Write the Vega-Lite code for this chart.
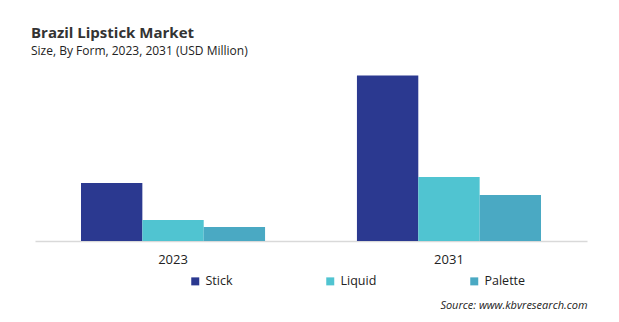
{
  "$schema": "https://vega.github.io/schema/vega-lite/v6.json",
  "autosize": {"type": "none"},
  "width": 552,
  "height": 181,
  "padding": {"left": 35, "top": 60, "right": 32, "bottom": 81},
  "background": "white",
  "title": {
    "text": "Brazil Lipstick Market",
    "subtitle": "Size, By Form, 2023, 2031 (USD Million)",
    "anchor": "start",
    "frame": "group",
    "dx": -4,
    "offset": 3,
    "font": "Open Sans",
    "fontSize": 15,
    "fontWeight": "bold",
    "color": "#333333",
    "subtitleFont": "Open Sans",
    "subtitleFontSize": 12,
    "subtitleColor": "#222222",
    "subtitlePadding": 5
  },
  "data": {
    "values": [
      {"year": "2023", "form": "Stick", "value": 58},
      {"year": "2023", "form": "Liquid", "value": 21},
      {"year": "2023", "form": "Palette", "value": 14},
      {"year": "2031", "form": "Stick", "value": 165.5},
      {"year": "2031", "form": "Liquid", "value": 64},
      {"year": "2031", "form": "Palette", "value": 46}
    ]
  },
  "mark": {"type": "bar"},
  "encoding": {
    "x": {
      "field": "year",
      "type": "nominal",
      "scale": {"paddingInner": 0.333, "paddingOuter": 0.1667},
      "axis": {
        "title": "Source: www.kbvresearch.com",
        "titleFont": "Open Sans",
        "titleFontSize": 11,
        "titleFontStyle": "italic",
        "titleFontWeight": "normal",
        "titleColor": "#222222",
        "titleAnchor": "end",
        "titleAlign": "right",
        "titleBaseline": "alphabetic",
        "titleX": 552,
        "titleY": 67,
        "labelAngle": 0,
        "labelFont": "Open Sans",
        "labelFontSize": 13,
        "labelColor": "#222222",
        "labelPadding": 12,
        "ticks": false,
        "domainColor": "#d9d9d9",
        "domainWidth": 1.5,
        "grid": false
      }
    },
    "xOffset": {"field": "form", "type": "nominal", "sort": ["Stick", "Liquid", "Palette"]},
    "y": {
      "field": "value",
      "type": "quantitative",
      "scale": {"domain": [0, 181]},
      "axis": null
    },
    "color": {
      "field": "form",
      "type": "nominal",
      "sort": ["Stick", "Liquid", "Palette"],
      "scale": {"domain": ["Stick", "Liquid", "Palette"], "range": ["#2b3990", "#50c4d1", "#4aa9c3"]},
      "legend": {
        "title": null,
        "orient": "none",
        "legendX": 154,
        "legendY": 215,
        "direction": "horizontal",
        "symbolType": "square",
        "symbolSize": 64,
        "symbolStrokeWidth": 0,
        "labelFont": "Open Sans",
        "labelFontSize": 12.5,
        "labelColor": "#222222",
        "labelOffset": 4,
        "columnPadding": 91
      }
    }
  },
  "config": {"view": {"stroke": null}}
}
